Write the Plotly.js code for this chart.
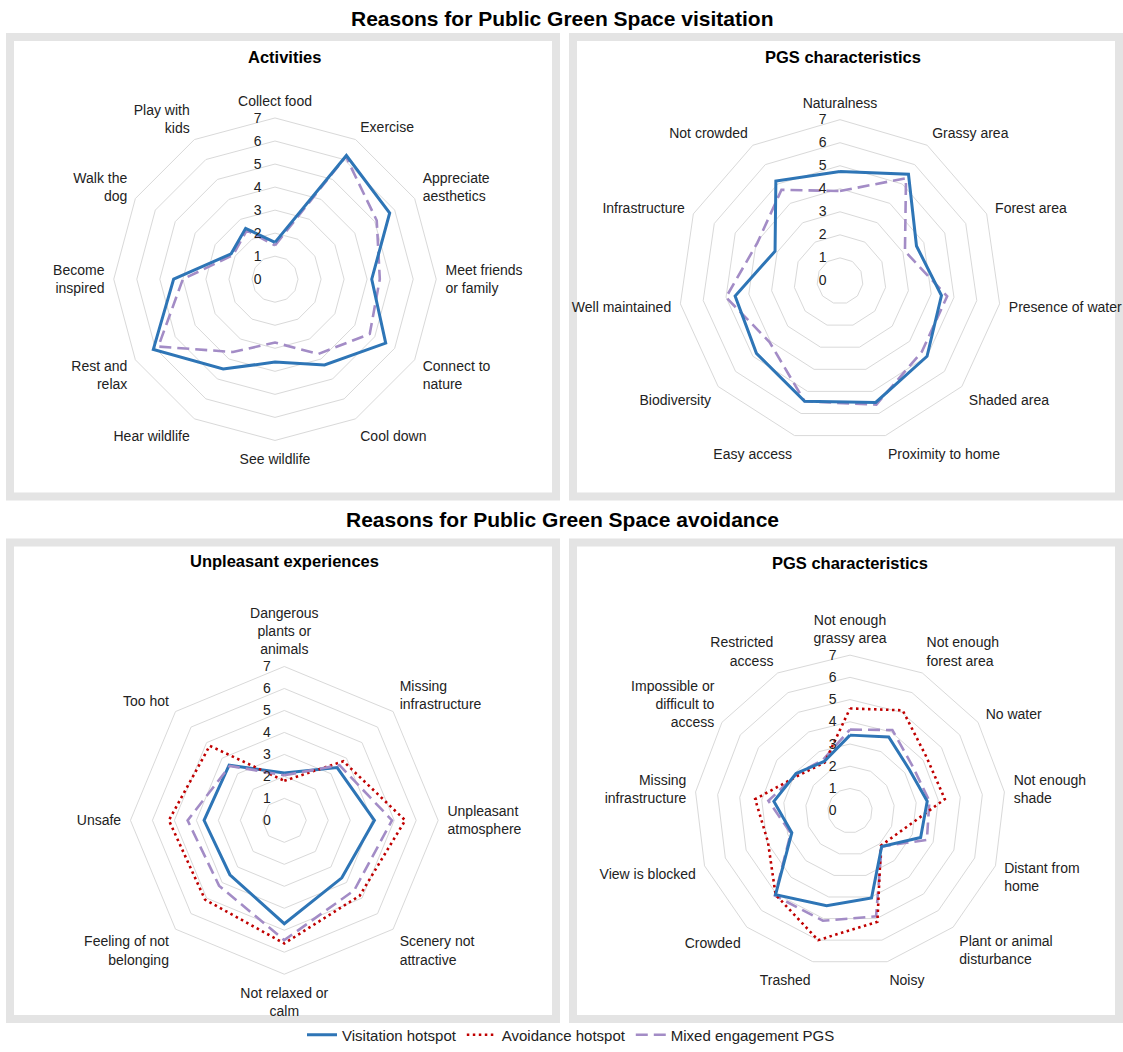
<!DOCTYPE html>
<html>
<head>
<meta charset="utf-8">
<script src="https://cdn.plot.ly/plotly-3.0.1.min.js"></script>
<style>
  html, body { margin: 0; padding: 0; background: #ffffff; }
  #chart { width: 1123px; height: 1052px; }
</style>
</head>
<body>
<div id="chart"></div>
<script>
// ---------------- DATA ----------------
const seriesNames = ["Visitation hotspot", "Avoidance hotspot", "Mixed engagement PGS"];

// Panel 1: Reasons for visitation - Activities
const actLabels = ["Collect food", "Exercise", "Appreciate<br>aesthetics", "Meet friends<br>or family",
  "Connect to<br>nature", "Cool down", "See wildlife", "Hear wildlife", "Rest and<br>relax",
  "Become<br>inspired", "Walk the<br>dog", "Play with<br>kids"];
const actVisit = [1.6, 6.2, 5.75, 4.2, 5.55, 4.3, 3.6, 4.5, 6.1, 4.4, 2.2, 2.55];
const actMixed = [1.47, 6.15, 5.1, 4.55, 4.75, 3.75, 2.75, 3.65, 5.85, 4.0, 2.1, 2.45];

// Panel 2: Reasons for visitation - PGS characteristics
const pgsvLabels = ["Naturalness", "Grassy area", "Forest area", "Presence of water", "Shaded area",
  "Proximity to home", "Easy access", "Biodiversity", "Well maintained", "Infrastructure", "Not crowded"];
const pgsvVisit = [4.75, 5.5, 3.65, 4.45, 5.0, 5.5, 5.45, 4.8, 4.6, 3.1, 5.15];
const pgsvMixed = [3.9, 5.3, 3.1, 4.7, 4.7, 5.6, 5.45, 4.05, 5.0, 3.95, 4.7];

// Panel 3: Reasons for avoidance - Unpleasant experiences
const unpLabels = ["Dangerous<br>plants or<br>animals", "Missing<br>infrastructure", "Unpleasant<br>atmosphere",
  "Scenery not<br>attractive", "Not relaxed or<br>calm", "Feeling of not<br>belonging", "Unsafe", "Too hot"];
const unpVisit = [2.15, 3.4, 4.1, 3.7, 4.7, 3.5, 3.65, 3.55];
const unpAvoid = [1.8, 3.8, 5.5, 4.85, 5.6, 5.1, 5.25, 4.8];
const unpMixed = [2.05, 3.55, 4.9, 4.5, 5.45, 4.2, 4.4, 3.5];

// Panel 4: Reasons for avoidance - PGS characteristics
const pgsaLabels = ["Not enough<br>grassy area", "Not enough<br>forest area", "No water", "Not enough<br>shade",
  "Distant from<br>home", "Plant or animal<br>disturbance", "Noisy", "Trashed", "Crowded", "View is blocked",
  "Missing<br>infrastructure", "Impossible or<br>difficult to<br>access", "Restricted<br>access"];
const pgsaVisit = [3.4, 3.75, 3.25, 3.5, 3.4, 2.15, 4.05, 4.4, 5.05, 2.8, 3.45, 2.95, 2.5];
const pgsaAvoid = [4.6, 5.1, 4.2, 4.3, 2.5, 2.1, 5.15, 6.0, 5.05, 3.95, 4.3, 2.8, 2.45];
const pgsaMixed = [3.65, 4.1, 3.45, 3.6, 3.7, 2.15, 4.9, 5.1, 5.1, 2.85, 3.7, 2.9, 2.6];

const radialTicks = [0, 1, 2, 3, 4, 5, 6, 7];

// ---------------- STYLE ----------------
const W = 1123, H = 1052;
const px = x => x / W;
const py = y => 1 - y / H;
const FONT = "Liberation Sans, Arial, Helvetica, sans-serif";

const styles = {
  visit: { color: "#2e75b6", width: 3, dash: "solid" },
  avoid: { color: "#c00000", width: 2.6, dash: "2.5px,3.5px" },
  mixed: { color: "#a38cc6", width: 2.6, dash: "12px,6px" }
};

function closed(arr) { return arr.concat([arr[0]]); }

function trace(sub, labels, vals, key, idx, showLegend) {
  return {
    type: "scatterpolar",
    subplot: sub,
    mode: "lines",
    r: closed(vals),
    theta: closed(labels),
    name: seriesNames[idx],
    legendgroup: key,
    showlegend: showLegend,
    line: { color: styles[key].color, width: styles[key].width, dash: styles[key].dash },
    hoverinfo: "skip"
  };
}

const data = [
  trace("polar", actLabels, actMixed, "mixed", 2, false),
  trace("polar", actLabels, actVisit, "visit", 0, false),
  trace("polar2", pgsvLabels, pgsvMixed, "mixed", 2, false),
  trace("polar2", pgsvLabels, pgsvVisit, "visit", 0, false),
  trace("polar3", unpLabels, unpVisit, "visit", 0, true),
  trace("polar3", unpLabels, unpAvoid, "avoid", 1, true),
  trace("polar3", unpLabels, unpMixed, "mixed", 2, true),
  trace("polar4", pgsaLabels, pgsaMixed, "mixed", 2, false),
  trace("polar4", pgsaLabels, pgsaAvoid, "avoid", 1, false),
  trace("polar4", pgsaLabels, pgsaVisit, "visit", 0, false)
];

function polarAxis(cx, cy, r, labels) {
  return {
    domain: { x: [px(cx - r), px(cx + r)], y: [py(cy + r), py(cy - r)] },
    gridshape: "linear",
    bgcolor: "rgba(0,0,0,0)",
    radialaxis: {
      range: [0, 7],
      tickmode: "array",
      tickvals: radialTicks,
      ticktext: radialTicks.map(String),
      angle: 90,
      tickangle: 90,
      side: "counterclockwise",
      showline: false,
      showgrid: true,
      gridcolor: "#d9d9d9",
      gridwidth: 1,
      ticks: "outside",
      ticklen: 8,
      tickcolor: "rgba(0,0,0,0)",
      tickfont: { family: FONT, size: 14, color: "#222222" }
    },
    angularaxis: {
      type: "category",
      categoryorder: "array",
      categoryarray: labels,
      direction: "clockwise",
      rotation: 90,
      showgrid: false,
      showline: true,
      linecolor: "#d9d9d9",
      linewidth: 1,
      ticks: "outside",
      ticklen: 6,
      tickcolor: "rgba(0,0,0,0)",
      tickfont: { family: FONT, size: 14, color: "#222222" }
    }
  };
}

const frameColor = "#e4e4e4";
function frame(x0, y0, x1, y1) {
  return {
    type: "rect", xref: "paper", yref: "paper",
    x0: px(x0), x1: px(x1), y0: py(y1), y1: py(y0),
    line: { color: frameColor, width: 8 },
    fillcolor: "rgba(0,0,0,0)",
    layer: "below"
  };
}

function title(text, x, y, size) {
  return {
    text: "<b>" + text + "</b>", xref: "paper", yref: "paper",
    x: px(x), y: py(y), xanchor: "center", yanchor: "middle",
    showarrow: false, font: { family: FONT, size: size, color: "#000000" }
  };
}

const layout = {
  width: W, height: H,
  margin: { l: 0, r: 0, t: 0, b: 0 },
  paper_bgcolor: "#ffffff",
  font: { family: FONT, size: 14, color: "#222222" },
  polar: polarAxis(275, 280, 161.7, actLabels),
  polar2: polarAxis(840, 281.7, 161.7, pgsvLabels),
  polar3: polarAxis(284.3, 822.7, 154.3, unpLabels),
  polar4: polarAxis(850, 813, 156, pgsaLabels),
  shapes: [
    frame(10, 37, 556, 498),
    frame(573, 37, 1119, 498),
    frame(10, 544, 556, 1022),
    frame(573, 544, 1119, 1022)
  ],
  annotations: [
    title("Reasons for Public Green Space visitation", 562, 19, 21),
    title("Activities", 284, 57, 16.5),
    title("PGS characteristics", 843, 57, 16.5),
    title("Reasons for Public Green Space avoidance", 562, 521, 21),
    title("Unpleasant experiences", 284, 563, 16.5),
    title("PGS characteristics", 850, 565, 16.5)
  ],
  showlegend: true,
  legend: {
    orientation: "h",
    x: px(571), xanchor: "center",
    y: py(1038), yanchor: "middle",
    font: { family: FONT, size: 15, color: "#222222" },
    itemwidth: 30,
    traceorder: "normal",
    bgcolor: "rgba(0,0,0,0)"
  }
};

Plotly.newPlot("chart", data, layout, { displayModeBar: false, staticPlot: true });
</script>
</body>
</html>
